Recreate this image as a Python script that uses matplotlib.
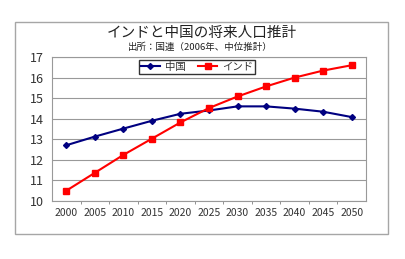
import matplotlib
matplotlib.use("Agg")
import matplotlib.pyplot as plt
from matplotlib.patches import Rectangle

plt.rcParams['font.family'] = ['Noto Sans CJK JP', 'DejaVu Sans']

years = ['2000', '2005', '2010', '2015', '2020', '2025',
         '2030', '2035', '2040', '2045', '2050']
china = [12.71, 13.13, 13.52, 13.90, 14.24, 14.40, 14.60, 14.60, 14.49, 14.34, 14.08]
india = [10.50, 11.37, 12.24, 13.03, 13.82, 14.52, 15.08, 15.57, 16.00, 16.34, 16.60]

fig = plt.figure(figsize=(4.06, 2.59), dpi=100)

# outer chart frame
fig.patches.append(Rectangle((15 / 406, 1 - 234 / 259), 373 / 406, 212 / 259,
                             transform=fig.transFigure, fill=False,
                             edgecolor='#a6a6a6', linewidth=1.0))

ax = fig.add_axes([52 / 406, 1 - 201 / 259, 314 / 406, 144 / 259])
x = list(range(len(years)))

ax.plot(x, china, color='#000080', marker='D', markersize=3, linewidth=1.5, label='中国')
ax.plot(x, india, color='#ff0000', marker='s', markersize=4.5, linewidth=1.5, label='インド')

ax.set_xlim(-0.5, len(years) - 0.5)
ax.set_ylim(10, 17)
ax.set_yticks(range(10, 18))
ax.set_xticks(x)
ax.set_xticklabels(years)
ax.set_xticks([i + 0.5 for i in range(len(years) - 1)], minor=True)
ax.grid(axis='y', color='#999999', linewidth=0.8)
ax.set_axisbelow(True)
ax.tick_params(axis='x', which='major', length=0, labelsize=7.5, pad=5, colors='#333333')
ax.tick_params(axis='x', which='minor', length=2, color='#808080')
ax.tick_params(axis='y', length=0, labelsize=9, pad=6, colors='#333333')
for s in ax.spines.values():
    s.set_color('#999999')
    s.set_linewidth(0.8)

leg = ax.legend(loc='center', bbox_to_anchor=(0.462, 0.93), ncol=2, fontsize=7.5,
                frameon=True, fancybox=False, borderpad=0.2, handlelength=1.8,
                columnspacing=1.2, handletextpad=0.5)
leg.get_frame().set_edgecolor('black')
leg.get_frame().set_linewidth(1.0)
for t in leg.get_texts():
    t.set_color('#333333')

fig.text(202 / 406, 1 - 33 / 259, 'インドと中国の将来人口推計', ha='center', va='center',
         fontsize=10.5, color='#222222')
fig.text(200 / 406, 1 - 47 / 259, '出所：国連（2006年、中位推計）', ha='center', va='center',
         fontsize=6.8, color='#222222')

fig.savefig('out.png', dpi=100)
